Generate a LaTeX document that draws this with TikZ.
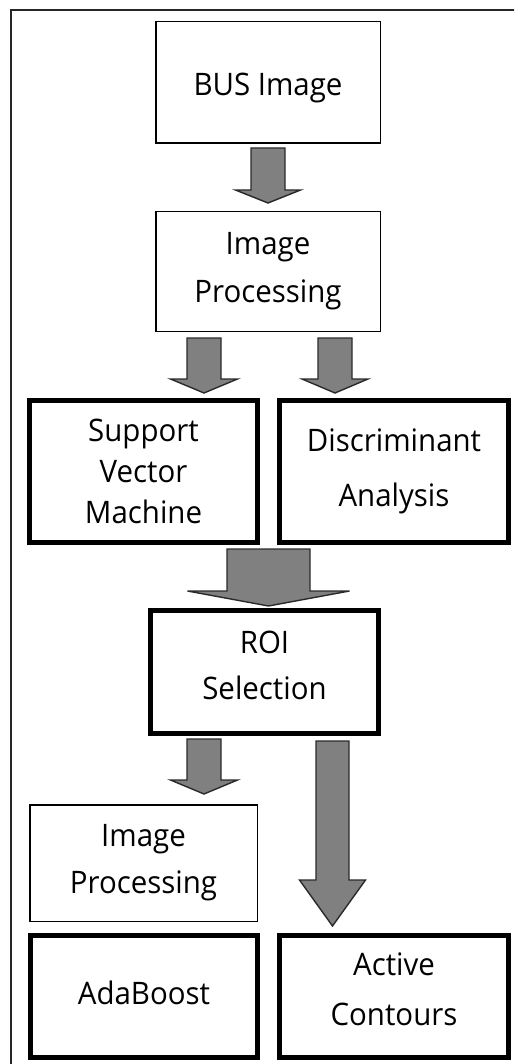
\documentclass[tikz,border=0pt]{standalone}
\usepackage{fontspec}
\setmainfont{Open Sans}[FakeStretch=0.95]
\usetikzlibrary{calc}
\definecolor{arrowgray}{HTML}{808080}
\definecolor{arrowline}{HTML}{2A2A2A}
\tikzset{
  thinbox/.style={draw=black, line width=1.5pt, fill=white, align=center, inner sep=0pt},
  thickbox/.style={draw=black, line width=4.6pt, fill=white, align=center, inner sep=0pt},
  blockarrow/.style={draw=arrowline, line width=1.4pt, fill=arrowgray, line join=miter},
  frameline/.style={draw=black!85, line width=1.6pt},
  lbl/.style={font={\fontsize{31}{#1}\selectfont}},
}
\newcommand\blockarr[5]{%
  \draw[blockarrow] let \p1=(#1), \p2=(#2) in
    (\x1-#3,\y1) -- (\x1+#3,\y1) -- (\x1+#3,\y2+#5) -- (\x1+#4,\y2+#5) --
    (\x2,\y2) -- (\x1-#4,\y2+#5) -- (\x1-#3,\y2+#5) -- cycle;}
\begin{document}
\begin{tikzpicture}[x=1pt,y=-1pt]
\useasboundingbox (0,0) rectangle (514,1064);
\clip (0,0) rectangle (514,1064);
% outer frame (left and top edges only visible)
\draw[frameline] (11,1080) -- (11,10) -- (530,10);

% boxes
\node[thinbox, lbl=46, text height=34pt, minimum width=224.5pt, minimum height=121.5pt] (bus) at (268,82.5)
  {BUS Image};
\node[thinbox, lbl=48, minimum width=224.5pt, minimum height=119.5pt] (ip1) at (268,271.5)
  {Image\\ Processing};
\node[thickbox, lbl=41, minimum width=228.5pt, minimum height=142.5pt] (svm) at (143.5,471.5)
  {Support\\ Vector\\ Machine};
\node[thickbox, lbl=55, minimum width=229.5pt, minimum height=142.5pt] (da) at (394,471.5)
  {Discriminant\\ Analysis};
\node[thickbox, lbl=46, text depth=14pt, minimum width=228.5pt, minimum height=123.5pt] (roi) at (264.5,672)
  {ROI\\ Selection};
\node[thinbox, lbl=47, minimum width=227.5pt, minimum height=116.5pt] (ip2) at (143.5,863)
  {Image\\ Processing};
\node[thickbox, lbl=46, text depth=8pt, minimum width=227.5pt, minimum height=122.5pt] (ada) at (144,996.5)
  {AdaBoost};
\node[thickbox, lbl=50, text depth=14pt, minimum width=229.5pt, minimum height=122.5pt] (ac) at (394,996.5)
  {Active\\ Contours};

% arrow end points
\coordinate (a1s) at (268,148);   \coordinate (a1e) at (268,203);
\coordinate (a2s) at (204,338);   \coordinate (a2e) at (204,393);
\coordinate (a3s) at (335,338);   \coordinate (a3e) at (335,393);
\coordinate (a4s) at (268.5,549); \coordinate (a4e) at (268.5,606);
\coordinate (a5s) at (204,739);   \coordinate (a5e) at (204,794);
\coordinate (a6s) at (332.5,741); \coordinate (a6e) at (332.5,926);

\blockarr{a1s}{a1e}{17pt}{32.5pt}{13pt}
\blockarr{a2s}{a2e}{17pt}{33.5pt}{14pt}
\blockarr{a3s}{a3e}{17pt}{33pt}{14pt}
\blockarr{a4s}{a4e}{41.5pt}{81pt}{15pt}
\blockarr{a5s}{a5e}{17pt}{33.5pt}{14pt}
\blockarr{a6s}{a6e}{16.5pt}{33pt}{46pt}
\end{tikzpicture}
\end{document}
